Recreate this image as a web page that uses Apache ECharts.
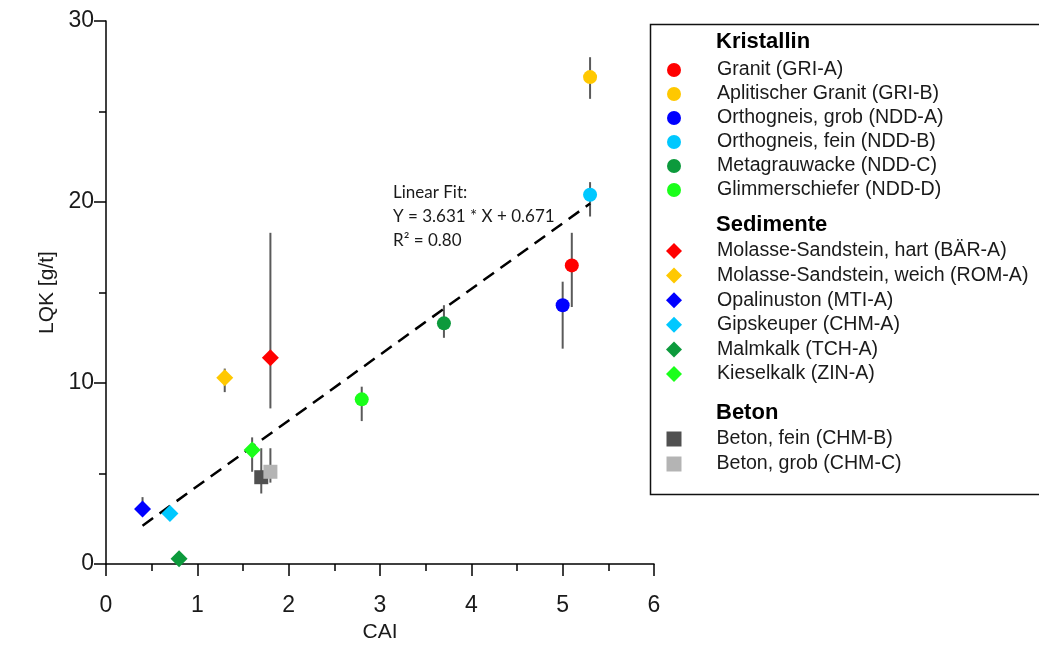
<!DOCTYPE html>
<html>
<head>
<meta charset="utf-8">
<script src="https://cdn.jsdelivr.net/npm/echarts@6/dist/echarts.min.js"></script>
<style>html,body{margin:0;padding:0;background:#fff}#c{width:1039px;height:648px}</style>
</head>
<body>
<div id="c"></div>
<script>
// ---- data ----
const names = [
  'Granit (GRI-A)', 'Aplitischer Granit (GRI-B)', 'Orthogneis, grob (NDD-A)', 'Orthogneis, fein (NDD-B)',
  'Metagrauwacke (NDD-C)', 'Glimmerschiefer (NDD-D)',
  'Molasse-Sandstein, hart (BÄR-A)', 'Molasse-Sandstein, weich (ROM-A)', 'Opalinuston (MTI-A)',
  'Gipskeuper (CHM-A)', 'Malmkalk (TCH-A)', 'Kieselkalk (ZIN-A)',
  'Beton, fein (CHM-B)', 'Beton, grob (CHM-C)'
];
const groupOf = ['K','K','K','K','K','K','S','S','S','S','S','S','B','B'];
const cai     = [5.1, 5.3, 5.0, 5.3, 3.7, 2.8, 1.8, 1.3, 0.4, 0.7, 0.8, 1.6, 1.7, 1.8];
const lqk     = [16.5, 26.9, 14.3, 20.4, 13.3, 9.1, 11.4, 10.3, 3.05, 2.8, 0.3, 6.3, 4.8, 5.1];
const errLow  = [14.2, 25.7, 11.9, 19.2, 12.5, 7.9, 8.6, 9.5, 2.7, 2.5, 0.1, 5.1, 3.9, 4.5];
const errHigh = [18.3, 28.0, 15.6, 21.1, 14.3, 9.8, 18.3, 10.8, 3.7, 3.1, 0.5, 7.0, 6.4, 6.4];
const colors  = ['#ff0000', '#ffc800', '#0000ff', '#00c8ff', '#0c9a3c', '#1aff1a',
                 '#ff0000', '#ffc800', '#0000ff', '#00c8ff', '#0c9a3c', '#1aff1a',
                 '#505050', '#b4b4b4'];
const groupHeaders = ['Kristallin', 'Sedimente', 'Beton'];
const fitSlope = 3.631, fitIntercept = 0.671, fitR2 = '0.80';
const fitRange = [0.4, 5.3];
const xTicks = [0, 6, 1];
const yTicks = [0, 30, 10];

// ---- chart ----
const symbolFor = {K: 'circle', S: 'diamond', B: 'rect'};
const sizeFor = {K: 14, S: 17, B: 14};
const FONT = '"Liberation Sans", Arial, sans-serif';

const scatterSeries = names.map((n, i) => ({
  name: n,
  type: 'scatter',
  z: 3,
  symbol: symbolFor[groupOf[i]],
  symbolSize: sizeFor[groupOf[i]],
  itemStyle: {color: colors[i], opacity: 1},
  data: [[cai[i], lqk[i]]],
  emphasis: {disabled: true}
}));

const errSeries = {
  type: 'custom',
  z: 2,
  silent: true,
  data: cai.map((x, i) => [x, errLow[i], errHigh[i]]),
  renderItem: function (params, api) {
    const p1 = api.coord([api.value(0), api.value(1)]);
    const p2 = api.coord([api.value(0), api.value(2)]);
    return {type: 'line', shape: {x1: p1[0], y1: p1[1], x2: p2[0], y2: p2[1]},
            style: {stroke: '#5a5a5a', lineWidth: 2}};
  }
};

const fitSeries = {
  type: 'line',
  z: 2.5,
  silent: true,
  symbol: 'none',
  data: fitRange.map(x => [x, fitSlope * x + fitIntercept]),
  lineStyle: {color: '#000', width: 2.5, type: [13, 8]}
};

function legendFor(g, left, top, iw, ih, pad, gap) {
  return {
    orient: 'vertical', left: left, top: top, itemWidth: iw, itemHeight: ih, itemGap: gap,
    selectedMode: false,
    data: names.filter((n, i) => groupOf[i] === g).map(n => ({name: n, icon: symbolFor[g]})),
    textStyle: {fontFamily: FONT, fontSize: 19.6, color: '#1a1a1a', padding: [0, 0, 0, pad], lineHeight: 20}
  };
}

const option = {
  animation: false,
  backgroundColor: '#fff',
  grid: {left: 106, right: 385, top: 21, bottom: 79, containLabel: false},
  xAxis: {
    type: 'value', min: xTicks[0], max: xTicks[1], interval: xTicks[2],
    name: 'CAI', nameLocation: 'middle', nameGap: 54,
    nameTextStyle: {fontFamily: FONT, fontSize: 21, color: '#1a1a1a'},
    axisLine: {show: true, onZero: false, lineStyle: {color: '#000', width: 1.5}},
    axisTick: {show: true, inside: false, length: 12, lineStyle: {color: '#000', width: 1.5}},
    minorTick: {show: true, splitNumber: 2, length: 7, lineStyle: {color: '#000', width: 1.5}},
    axisLabel: {fontFamily: FONT, fontSize: 23, color: '#1a1a1a', margin: 30},
    splitLine: {show: false}
  },
  yAxis: {
    type: 'value', min: yTicks[0], max: yTicks[1], interval: yTicks[2],
    name: 'LQK [g/t]', nameLocation: 'middle', nameGap: 46,
    nameTextStyle: {fontFamily: FONT, fontSize: 21, color: '#1a1a1a'},
    axisLine: {show: true, onZero: false, lineStyle: {color: '#000', width: 1.5}},
    axisTick: {show: true, inside: false, length: 12, lineStyle: {color: '#000', width: 1.5}},
    minorTick: {show: true, splitNumber: 2, length: 7, lineStyle: {color: '#000', width: 1.5}},
    axisLabel: {fontFamily: FONT, fontSize: 23, color: '#1a1a1a', margin: 12},
    splitLine: {show: false}
  },
  legend: [
    legendFor('K', 662, 55, 14, 14, 31, 4),
    legendFor('S', 661, 236, 16, 16, 30, 4.6),
    legendFor('B', 661.5, 424, 15, 15, 30, 5)
  ],
  graphic: [
    {type: 'rect', left: 648, top: 22, shape: {width: 400, height: 470},
     style: {fill: 'none', stroke: '#111', lineWidth: 1.5}, z: 0},
    {type: 'text', x: 716, y: 42, style: {text: groupHeaders[0], font: 'bold 22px ' + FONT, fill: '#000', verticalAlign: 'middle'}},
    {type: 'text', x: 716, y: 225, style: {text: groupHeaders[1], font: 'bold 22px ' + FONT, fill: '#000', verticalAlign: 'middle'}},
    {type: 'text', x: 716, y: 413, style: {text: groupHeaders[2], font: 'bold 22px ' + FONT, fill: '#000', verticalAlign: 'middle'}},
    {type: 'text', x: 393, y: 193, style: {text: 'Linear Fit:', font: '17px Lato, sans-serif', fill: '#1a1a1a', verticalAlign: 'middle'}},
    {type: 'text', x: 393, y: 217, style: {text: 'Y = ' + fitSlope + ' * X + ' + fitIntercept, font: '17px Lato, sans-serif', fill: '#1a1a1a', verticalAlign: 'middle'}},
    {type: 'text', x: 393, y: 241, style: {text: 'R² = ' + fitR2, font: '17px Lato, sans-serif', fill: '#1a1a1a', verticalAlign: 'middle'}}
  ],
  series: [errSeries, fitSeries].concat(scatterSeries)
};

const chart = echarts.init(document.getElementById('c'), null, {renderer: 'canvas'});
chart.setOption(option);
</script>
</body>
</html>
